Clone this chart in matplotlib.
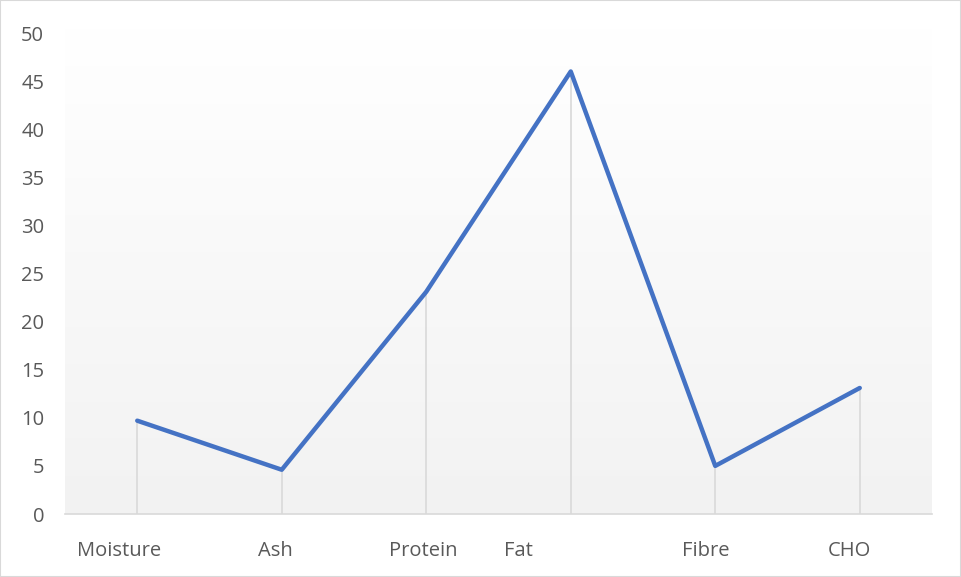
import numpy as np
import matplotlib
matplotlib.use("Agg")
import matplotlib.pyplot as plt
import matplotlib.transforms as mtransforms
from matplotlib.patches import Rectangle

plt.rcParams['font.family'] = ['Open Sans', 'DejaVu Sans']

categories = ["Moisture", "Ash", "Protein", "Fat", "Fibre", "CHO"]
values = [9.7, 4.6, 23.1, 46.0, 5.0, 13.1]
yticks = [0, 5, 10, 15, 20, 25, 30, 35, 40, 45, 50]
# label shifts in pixels (labels in the original sit off-centre)
label_shift = [-18, -6, -3, -52, -10, -10]

fig = plt.figure(figsize=(9.61, 5.77), dpi=100)
fig.patches.append(Rectangle((0, 0), 1, 1, transform=fig.transFigure,
                             fill=False, edgecolor="#D9D9D9", lw=1.5))
ax = fig.add_axes([65/961, 63/577, 867/961, 486/577])

x = np.arange(len(categories))
ax.set_xlim(-0.5, len(categories) - 0.5)
ax.set_ylim(0, 50.52)

# gradient background
grad = np.linspace(1, 0, 256).reshape(-1, 1)
ax.imshow(grad, extent=[0, 1, 0, 1], transform=ax.transAxes, aspect="auto",
          cmap=matplotlib.colors.LinearSegmentedColormap.from_list("g", ["#F2F2F2", "#FFFFFF"]),
          vmin=0, vmax=1, zorder=0)

ax.vlines(x, 0, values, color="#D9D9D9", lw=1.2, zorder=1)
ax.plot(x, values, color="#4472C4", lw=3.2, solid_capstyle="round",
        solid_joinstyle="round", zorder=3)

for s in ["top", "right", "left"]:
    ax.spines[s].set_visible(False)
ax.spines["bottom"].set_color("#D9D9D9")
ax.spines["bottom"].set_linewidth(1.2)
ax.spines["bottom"].set_zorder(2)

ax.set_yticks(yticks)
ax.set_xticks(x)
ax.set_xticklabels(categories)
ax.tick_params(axis="both", length=0, labelsize=14.5, labelcolor="#595959")
ax.tick_params(axis="y", pad=15)
ax.tick_params(axis="x", pad=19.5)

for lab, dx in zip(ax.get_xticklabels(), label_shift):
    lab.set_transform(lab.get_transform() +
                      mtransforms.ScaledTranslation(dx / 100, 0, fig.dpi_scale_trans))

fig.savefig("out.png", dpi=100)
